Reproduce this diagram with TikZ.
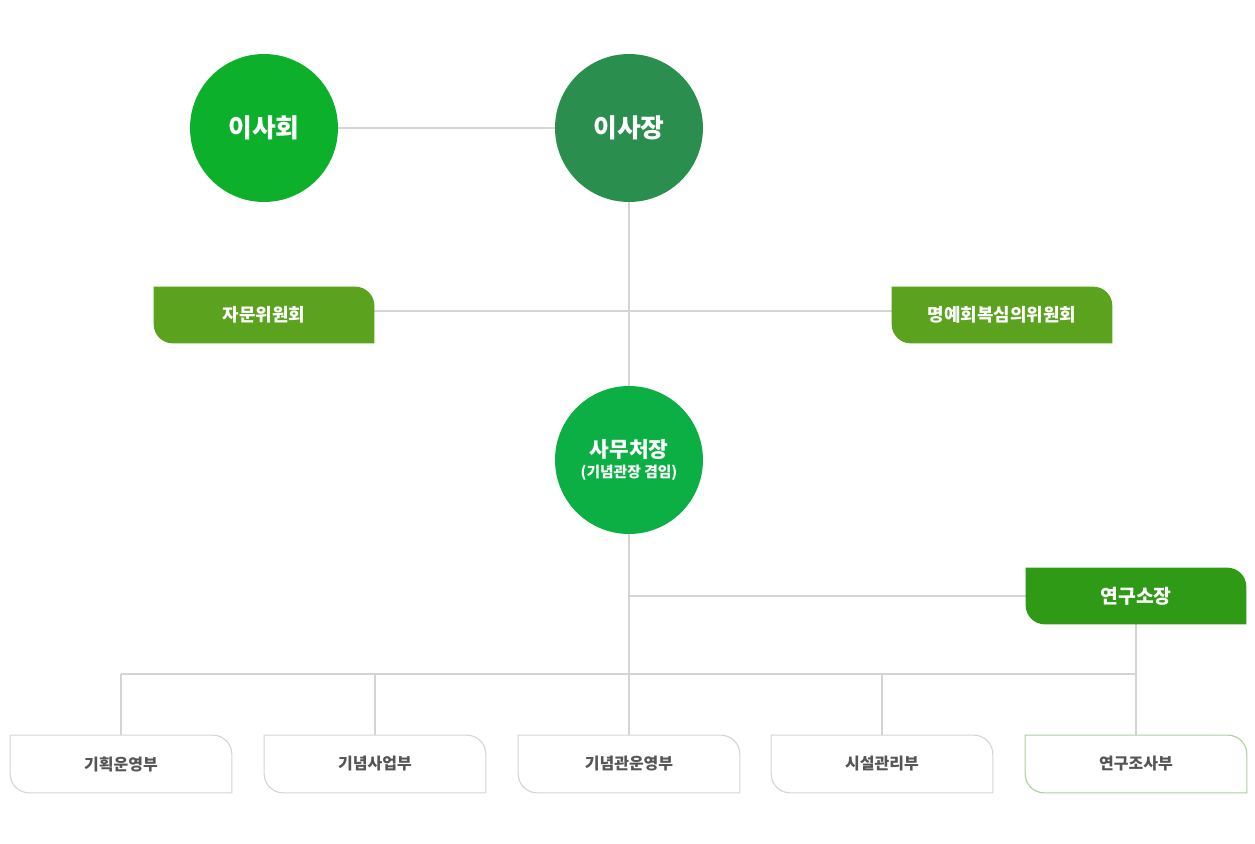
\documentclass[tikz,border=0pt]{standalone}
\usepackage{fontspec}
\setmainfont{Noto Sans CJK KR}
\usetikzlibrary{backgrounds}
\definecolor{boardgreen}{RGB}{13,176,43}
\definecolor{chairgreen}{RGB}{42,143,78}
\definecolor{secgreen}{RGB}{12,175,68}
\definecolor{tabgreen}{RGB}{91,162,30}
\definecolor{labgreen}{RGB}{47,154,22}
\definecolor{linegray}{RGB}{212,212,212}
\definecolor{textgray}{RGB}{85,85,85}
\definecolor{edgegreen}{RGB}{172,207,160}
\newcommand\tabr{0.38cm}
\newcommand\tabpath[1]{(#1.north west) -- ([xshift=-\tabr]#1.north east) arc (90:0:\tabr)
  -- (#1.south east) -- ([xshift=\tabr]#1.south west) arc (270:180:\tabr) -- cycle}
\begin{document}
\begin{tikzpicture}[x=0.02cm,y=-0.02cm,
  line/.style={draw=linegray,line width=0.6pt},
  round/.style={circle,minimum size=2.96cm,inner sep=0pt,text=white,font=\bfseries\fontsize{14.7}{17}\selectfont},
  tabbox/.style={minimum width=4.4cm,minimum height=1.12cm,inner sep=0pt,text=white,font=\bfseries\fontsize{10.2}{12}\selectfont},
  deptbox/.style={minimum width=4.42cm,minimum height=1.14cm,inner sep=0pt,text=textgray,font=\bfseries\fontsize{9.1}{11}\selectfont}]
  \useasboundingbox (0,0) rectangle (1255,844);
  \node[round,fill=boardgreen] (board) at (264,128) {이사회};
  \node[round,fill=chairgreen] (chair) at (629,128) {이사장};
  \node[tabbox] (advisory) at (264,315) {자문위원회};
  \node[tabbox] (honor) at (1002,315) {명예회복심의위원회};
  \node[round,fill=secgreen,align=center,font=\bfseries] (secretary) at (629,460)
    {\fontsize{12.2}{15}\selectfont 사무처장\\[-1pt]\fontsize{8.4}{13}\selectfont (기념관장 겸임)};
  \node[tabbox,font=\bfseries\fontsize{11}{13}\selectfont] (institute) at (1136,596) {연구소장};
  \node[deptbox] (planning) at (121,764) {기획운영부};
  \node[deptbox] (memorial) at (375,764) {기념사업부};
  \node[deptbox] (museum) at (629,764) {기념관운영부};
  \node[deptbox] (facility) at (882,764) {시설관리부};
  \node[deptbox] (research) at (1136,764) {연구조사부};
  \coordinate (cross) at (629,311);
  \coordinate (bus) at (629,674);
  \begin{scope}[on background layer]
    \draw[line] (board) -- (chair);
    \draw[line] (chair) -- (secretary);
    \draw[line] (advisory.east |- cross) -- (honor.west |- cross);
    \draw[line] (secretary) -- (museum);
    \draw[line] (secretary.south |- institute) -- (institute);
    \draw[line] (institute) -- (research);
    \draw[line] (planning.north |- bus) -- (research.north |- bus);
    \foreach \d in {planning,memorial,facility}
      \draw[line] (\d.north |- bus) -- (\d);
    \fill[tabgreen] \tabpath{advisory};
    \fill[tabgreen] \tabpath{honor};
    \fill[labgreen] \tabpath{institute};
    \foreach \d in {planning,memorial,museum,facility}
      \filldraw[fill=white,draw=linegray,line width=0.6pt] \tabpath{\d};
    \filldraw[fill=white,draw=edgegreen,line width=0.6pt] \tabpath{research};
  \end{scope}
\end{tikzpicture}
\end{document}
